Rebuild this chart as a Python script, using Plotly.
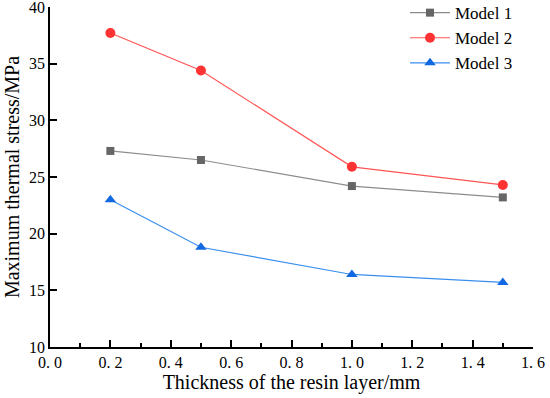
import plotly.graph_objects as go

thickness = [0.2, 0.5, 1.0, 1.5]
model1 = [27.3, 26.5, 24.2, 23.2]
model2 = [37.7, 34.4, 25.9, 24.3]
model3 = [23.0, 18.8, 16.4, 15.7]
xtick_vals = [0.0, 0.2, 0.4, 0.6, 0.8, 1.0, 1.2, 1.4, 1.6]
xtick_text = ["0. 0", "0. 2", "0. 4", "0. 6", "0. 8", "1. 0", "1. 2", "1. 4", "1. 6"]
ytick_vals = [10, 15, 20, 25, 30, 35, 40]

FONT = "Liberation Serif"

fig = go.Figure()
fig.add_trace(go.Scatter(x=thickness, y=model1, name="Model 1", mode="lines+markers",
                         line=dict(color="#8c8c8c", width=1.2),
                         marker=dict(symbol="square", size=8, color="#666666")))
fig.add_trace(go.Scatter(x=thickness, y=model2, name="Model 2", mode="lines+markers",
                         line=dict(color="#ff5555", width=1.2),
                         marker=dict(symbol="circle", size=10, color="#ff3333")))
fig.add_trace(go.Scatter(x=thickness, y=model3, name="Model 3", mode="lines+markers",
                         line=dict(color="#3a8ef0", width=1.2),
                         marker=dict(symbol="triangle-up", size=10, color="#1168e0")))

fig.update_layout(
    width=550, height=398,
    margin=dict(l=50, r=17, t=7, b=51, autoexpand=False),
    paper_bgcolor="white", plot_bgcolor="white",
    font=dict(family=FONT, size=16, color="black"),
    showlegend=True,
    legend=dict(x=0.735, y=1.035, xanchor="left", yanchor="top",
                bgcolor="rgba(0,0,0,0)", font=dict(size=17, family=FONT),
                itemwidth=40, tracegroupgap=0),
    xaxis=dict(range=[0, 1.6], tickvals=xtick_vals, ticktext=xtick_text,
               showline=True, linecolor="black", linewidth=1.5,
               ticks="inside", ticklen=7, tickwidth=1.5, tickcolor="black",
               minor=dict(dtick=0.1, ticks="inside", ticklen=4, tickwidth=1.5, tickcolor="black", showgrid=False),
               showgrid=False, zeroline=False, mirror=False, automargin=False,
               ticklabeloverflow="allow",
               tickfont=dict(size=16, family=FONT),
               title=dict(text="Thickness of the resin layer/mm", font=dict(size=20, family=FONT), standoff=4)),
    yaxis=dict(range=[10, 40], tickvals=ytick_vals,
               showline=True, linecolor="black", linewidth=1.5,
               ticks="inside", ticklen=7, tickwidth=1.5, tickcolor="black",
               showgrid=False, zeroline=False, mirror=False, automargin=False,
               ticklabeloverflow="allow",
               tickfont=dict(size=16, family=FONT),
               title=dict(text="Maximum thermal stress/MPa", font=dict(size=20, family=FONT), standoff=4)),
)

fig.write_html("out.html", config={"displayModeBar": False},
               post_script="document.body.style.margin='0';")
